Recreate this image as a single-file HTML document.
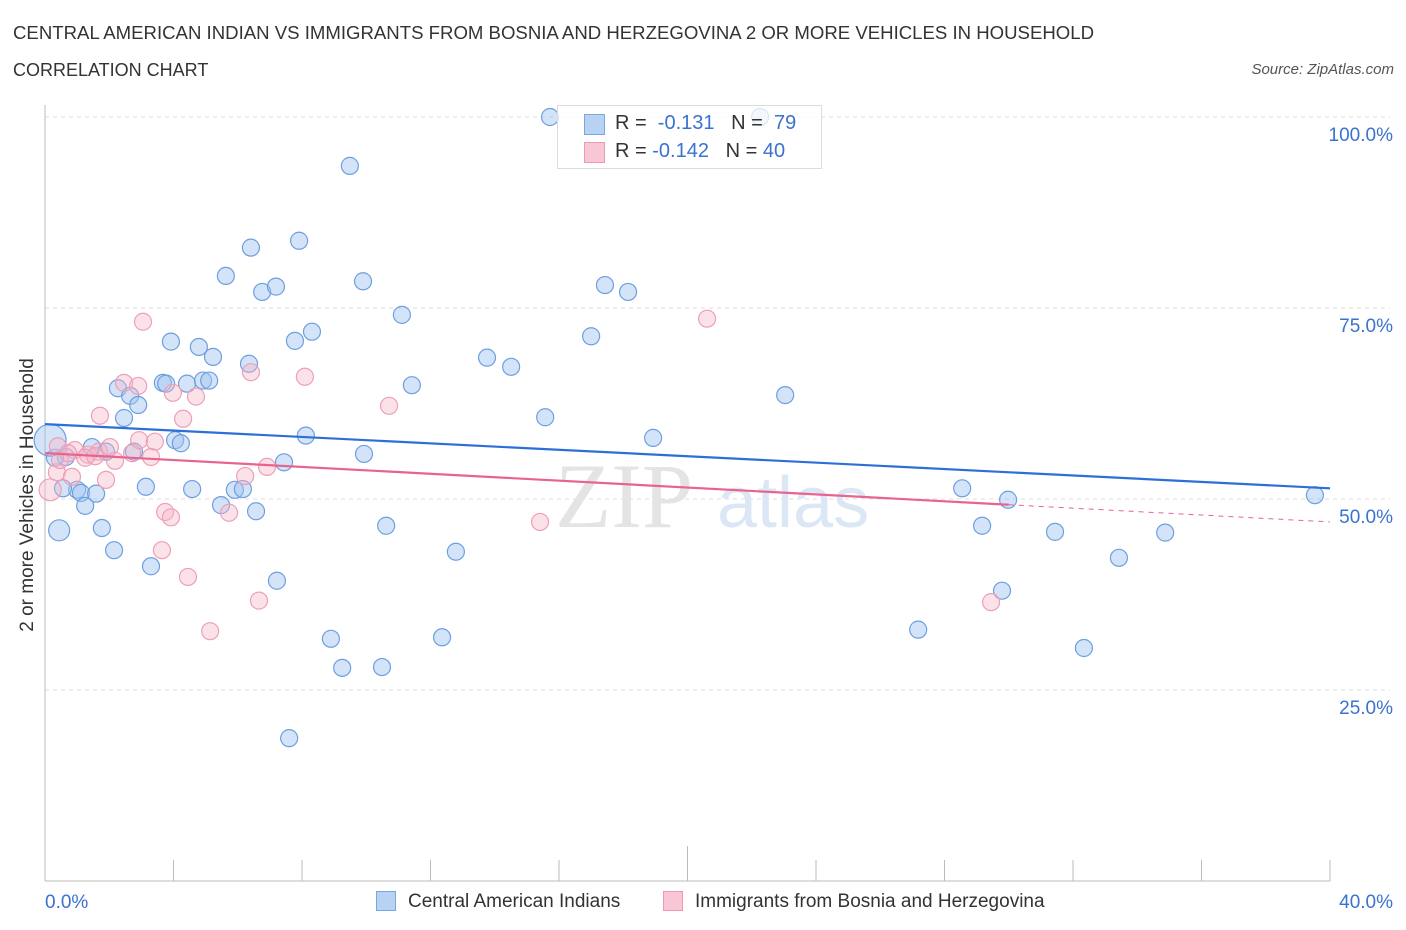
<!DOCTYPE html>
<html><head><meta charset="utf-8"><style>
body{margin:0;background:#fff;font-family:"Liberation Sans",sans-serif;}
#wrap{position:relative;width:1406px;height:930px;overflow:hidden;}
.t{position:absolute;white-space:nowrap;}
</style></head><body>
<div id="wrap">
<div class="t" style="left:13px;top:22px;font-size:18.6px;color:#333;">CENTRAL AMERICAN INDIAN VS IMMIGRANTS FROM BOSNIA AND HERZEGOVINA 2 OR MORE VEHICLES IN HOUSEHOLD</div>
<div class="t" style="left:13px;top:60px;font-size:18px;color:#333;">CORRELATION CHART</div>
<div class="t" style="right:12px;top:61px;font-size:15px;font-style:italic;color:#555;">Source: ZipAtlas.com</div>
<svg id="svg" width="1406" height="930" style="position:absolute;left:0;top:0"></svg>
<div style="position:absolute;left:557px;top:105px;width:263px;height:62px;border:1px solid #ddd;background:rgba(255,255,255,0.75);font-size:20px;color:#333;">
 <div style="position:absolute;left:26px;top:8px;width:19px;height:19px;background:#b8d2f4;border:1px solid #7aa7e4;"></div>
 <div class="t" style="left:57px;top:6px;">R = &nbsp;<span style="color:#3a72d0">-0.131</span> &nbsp; N = &nbsp;<span style="color:#3a72d0">79</span></div>
 <div style="position:absolute;left:26px;top:36px;width:19px;height:19px;background:#f8c6d4;border:1px solid #ec9ab2;"></div>
 <div class="t" style="left:57px;top:34px;">R = <span style="color:#3a72d0">-0.142</span> &nbsp; N = <span style="color:#3a72d0">40</span></div>
</div>
<div style="position:absolute;left:376px;top:891px;width:20px;height:20px;background:#b8d2f4;border:1px solid #7aa7e4;box-sizing:border-box;"></div>
<div class="t" style="left:408px;top:891px;font-size:19px;color:#333;">Central American Indians</div>
<div style="position:absolute;left:663px;top:891px;width:20px;height:20px;background:#f8c6d4;border:1px solid #ec9ab2;box-sizing:border-box;"></div>
<div class="t" style="left:695px;top:891px;font-size:19px;color:#333;">Immigrants from Bosnia and Herzegovina</div>
<div class="t" style="top:495px;font-size:19px;color:#333;transform:translate(-50%,-50%) rotate(-90deg);transform-origin:center;left:28px;">2 or more Vehicles in Household</div>
</div>
<script>
const blueX=[15.72,22.26,9.49,6.41,7.91,5.63,6.76,7.19,9.90,11.11,17.43,18.15,8.31,7.78,3.92,4.79,5.23,6.35,17.00,13.76,14.51,11.42,23.04,2.27,2.65,3.67,3.77,4.42,4.92,5.11,2.90,2.46,15.57,18.93,8.12,4.05,4.23,1.46,1.90,2.77,0.65,0.31,9.93,7.44,3.14,4.58,5.91,6.16,1.00,1.12,1.59,0.56,1.25,5.48,6.57,28.55,29.98,39.53,10.62,1.77,0.44,29.17,31.44,34.87,12.79,2.15,33.43,3.30,7.22,29.79,27.18,12.36,8.90,32.34,9.25,10.49,7.60,0.16];
const blueY=[100.0,100.0,93.6,82.9,83.8,79.2,77.1,77.8,78.5,74.1,78.0,77.1,71.9,70.7,70.6,69.9,68.6,67.7,71.3,68.5,67.3,64.9,63.6,64.5,63.5,65.2,65.1,65.1,65.5,65.5,62.3,60.6,60.7,58.0,58.3,57.7,57.3,56.8,56.2,56.2,55.5,55.4,55.9,54.8,51.6,51.3,51.2,51.3,51.2,50.8,50.7,51.4,49.1,49.2,48.4,51.4,49.9,50.5,46.5,46.2,45.9,46.5,45.7,45.6,43.1,43.3,42.3,41.2,39.3,38.0,32.9,31.9,31.7,30.5,27.9,28.0,18.7,57.7];
const pinkX=[3.05,20.61,2.46,2.90,3.98,8.09,6.41,4.70,10.71,4.30,1.71,0.40,0.93,1.68,2.02,2.93,3.42,1.34,1.25,2.18,2.71,3.30,0.37,0.84,1.90,6.23,6.91,0.16,3.74,3.92,5.73,15.41,3.64,4.45,6.66,5.14,29.45,0.47,1.56,0.72];
const pinkY=[73.2,73.6,65.2,64.8,63.9,66.0,66.6,63.4,62.2,60.5,60.9,56.9,56.4,56.2,56.8,57.7,57.5,55.8,55.4,55.0,56.0,55.5,53.5,52.9,52.5,53.0,54.2,51.2,48.3,47.6,48.2,47.0,43.3,39.8,36.7,32.7,36.5,55.1,55.6,56.0];
const blueTrend=[59.8,51.4];
const pinkTrend=[56.0,47.0];
const pinkSolidEnd=30.0;
const yTicks=[25,50,75,100];
const yTickLabels=["25.0%","50.0%","75.0%","100.0%"];

const X0=45,X1=1330,Y0=881,Y100=117;
const sx=v=>X0+(v/40)*(X1-X0);
const sy=v=>Y0-(v/100)*(Y0-Y100);
const svg=document.getElementById('svg');
const NS='http://www.w3.org/2000/svg';
function mk(tag,attrs){const e=document.createElementNS(NS,tag);for(const k in attrs)e.setAttribute(k,attrs[k]);svg.appendChild(e);return e;}
yTicks.forEach((t,i)=>{
 const g=mk('line',{x1:X0,x2:1390,y1:sy(t),y2:sy(t),stroke:'#ddd','stroke-dasharray':'4,4'});
 
 
 const tx=mk('text',{x:1393,y:sy(t)+24,'text-anchor':'end','font-size':19,fill:'#3a72d0','font-family':'Liberation Sans, sans-serif'});
 tx.textContent=yTickLabels[i];
 
 
});
const ax=mk('line',{x1:X0,x2:X1,y1:Y0,y2:Y0,stroke:'#bbb'});


const ay=mk('line',{x1:X0,x2:X0,y1:105,y2:Y0,stroke:'#bbb'});


for(let i=0;i<=10;i++){
 const x=X0+i*(X1-X0)/10;
 const tk=mk('line',{x1:x,x2:x,y1:Y0,y2:i==5?846:860,stroke:'#bbb'});
 
 
}
const xl0=mk('text',{x:45,y:908,'font-size':19,fill:'#3a72d0','font-family':'Liberation Sans, sans-serif'});xl0.textContent='0.0%';


const xl1=mk('text',{x:1393,y:908,'text-anchor':'end','font-size':19,fill:'#3a72d0','font-family':'Liberation Sans, sans-serif'});xl1.textContent='40.0%';


const wm=mk('text',{x:555,y:527,'font-size':92,fill:'#e4e4e4','font-family':'Liberation Serif, serif'});wm.textContent='ZIP';


const wm2=mk('text',{x:717,y:527,'font-size':72,fill:'#dce7f6','font-family':'Liberation Sans, sans-serif'});wm2.textContent='atlas';


blueX.forEach((v,i)=>{
 const big=i===blueX.length-1;
 const c=mk('circle',{cx:sx(v),cy:sy(blueY[i]),r:big?16:(i===60?10.5:8.5),fill:'rgba(160,196,240,0.45)',stroke:'#6d9fe0','stroke-width':1.2});
 
 
});
pinkX.forEach((v,i)=>{
 const c=mk('circle',{cx:sx(v),cy:sy(pinkY[i]),r:i===27?11:8.5,fill:'rgba(244,182,200,0.4)',stroke:'#ee9fb6','stroke-width':1.2});
 
 
});
const bl=mk('line',{x1:sx(0),y1:sy(blueTrend[0]),x2:sx(40),y2:sy(blueTrend[1]),stroke:'#2d6fd6','stroke-width':2.2});


const pm=pinkTrend[0]+(pinkTrend[1]-pinkTrend[0])*pinkSolidEnd/40;
const pl=mk('line',{x1:sx(0),y1:sy(pinkTrend[0]),x2:sx(pinkSolidEnd),y2:sy(pm),stroke:'#e8648f','stroke-width':2.2});


const pd=mk('line',{x1:sx(pinkSolidEnd),y1:sy(pm),x2:sx(40),y2:sy(pinkTrend[1]),stroke:'#e8648f','stroke-width':1,'stroke-dasharray':'5,5'});


</script>
</body></html>
